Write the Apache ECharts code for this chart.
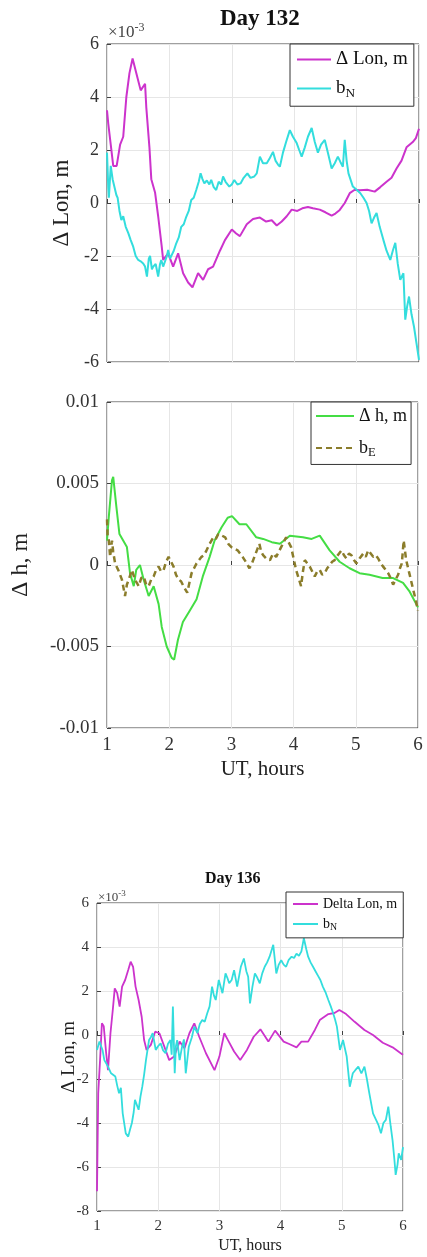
<!DOCTYPE html>
<html>
<head>
<meta charset="utf-8">
<script src="https://cdn.jsdelivr.net/npm/echarts@6/dist/echarts.min.js"></script>
<style>
  html, body { margin: 0; padding: 0; background: #fff; }
  #chart { width: 427px; height: 1257px; }
</style>
</head>
<body>
<div id="chart"></div>
<script>
// Day 132, delta longitude (x10^-3 m) and b_N, [UT hours, value]
const dLon132 = [[1.00,3.5],[1.02,3.0],[1.06,2.2],[1.10,1.4],[1.155,1.4],[1.21,2.2],[1.26,2.5],[1.31,4.0],[1.36,4.9],[1.41,5.45],[1.47,4.9],[1.54,4.25],[1.57,4.3],[1.61,4.5],[1.63,3.6],[1.68,2.1],[1.71,0.9],[1.77,0.4],[1.82,-0.5],[1.875,-1.6],[1.90,-2.15],[1.98,-1.9],[2.06,-2.4],[2.14,-1.9],[2.22,-2.65],[2.30,-3.0],[2.37,-3.18],[2.46,-2.65],[2.54,-2.9],[2.62,-2.5],[2.70,-2.4],[2.81,-1.8],[2.89,-1.4],[3.00,-1.0],[3.07,-1.15],[3.13,-1.25],[3.24,-0.8],[3.34,-0.6],[3.45,-0.55],[3.55,-0.7],[3.64,-0.65],[3.72,-0.85],[3.80,-0.7],[3.88,-0.5],[3.96,-0.25],[4.05,-0.3],[4.13,-0.2],[4.22,-0.15],[4.30,-0.2],[4.41,-0.25],[4.50,-0.35],[4.60,-0.48],[4.66,-0.4],[4.73,-0.26],[4.81,0.0],[4.89,0.37],[4.97,0.5],[5.05,0.48],[5.17,0.5],[5.29,0.43],[5.38,0.6],[5.48,0.8],[5.56,0.95],[5.64,1.3],[5.72,1.6],[5.80,2.1],[5.90,2.3],[5.95,2.45],[6.00,2.8]];
const bN132 = [[1.00,1.9],[1.02,0.6],[1.03,0.2],[1.05,1.0],[1.06,1.4],[1.09,0.9],[1.12,0.9],[1.15,0.3],[1.17,0.2],[1.20,-0.3],[1.23,-0.64],[1.26,-0.5],[1.30,-0.9],[1.34,-1.13],[1.38,-1.4],[1.42,-1.65],[1.46,-2.0],[1.50,-2.15],[1.54,-2.2],[1.58,-2.28],[1.61,-2.4],[1.64,-2.78],[1.67,-2.1],[1.69,-2.0],[1.72,-2.5],[1.74,-2.4],[1.78,-2.3],[1.82,-2.78],[1.85,-2.3],[1.87,-2.15],[1.90,-2.4],[1.93,-2.4],[1.96,-2.0],[1.98,-1.77],[2.01,-2.1],[2.03,-2.15],[2.07,-1.8],[2.11,-1.52],[2.15,-1.3],[2.19,-0.9],[2.23,-0.8],[2.27,-0.52],[2.31,-0.3],[2.35,0.11],[2.39,0.2],[2.43,0.49],[2.47,0.8],[2.50,1.12],[2.53,0.9],[2.56,0.74],[2.60,0.85],[2.64,0.7],[2.67,0.87],[2.71,0.6],[2.75,0.49],[2.79,0.8],[2.83,0.7],[2.86,1.0],[2.90,0.8],[2.93,0.75],[2.96,0.62],[3.00,0.7],[3.04,0.87],[3.09,0.7],[3.14,0.74],[3.19,0.95],[3.25,1.12],[3.30,0.95],[3.36,1.0],[3.40,1.12],[3.45,1.75],[3.50,1.5],[3.56,1.5],[3.61,1.7],[3.66,1.93],[3.70,1.6],[3.74,1.45],[3.77,1.37],[3.82,1.9],[3.87,2.3],[3.93,2.75],[3.98,2.5],[4.04,2.26],[4.08,2.0],[4.12,1.75],[4.17,2.1],[4.22,2.5],[4.28,2.83],[4.33,2.3],[4.38,1.9],[4.43,2.2],[4.49,2.38],[4.54,1.9],[4.60,1.3],[4.65,1.5],[4.70,1.75],[4.74,1.55],[4.78,1.37],[4.81,2.38],[4.84,1.6],[4.87,1.12],[4.94,0.62],[5.00,0.5],[5.06,0.37],[5.11,0.2],[5.16,0.0],[5.20,-0.3],[5.24,-0.77],[5.28,-0.55],[5.32,-0.38],[5.37,-0.9],[5.43,-1.4],[5.48,-1.8],[5.54,-2.15],[5.58,-1.8],[5.62,-1.5],[5.66,-2.3],[5.70,-2.9],[5.75,-2.65],[5.78,-4.4],[5.81,-3.9],[5.84,-3.53],[5.88,-4.2],[5.92,-4.67],[5.96,-5.3],[6.00,-5.92]];

// Day 132, delta height (m) and b_E
const dH132 = [[1.00,0.0015],[1.03,0.003],[1.08,0.0052],[1.10,0.0054],[1.15,0.0036],[1.20,0.0019],[1.26,0.0015],[1.32,0.0011],[1.37,-0.0005],[1.43,-0.0013],[1.47,-0.0003],[1.53,0.0],[1.59,-0.0009],[1.67,-0.0019],[1.75,-0.0013],[1.83,-0.0024],[1.88,-0.0038],[1.96,-0.005],[2.04,-0.0057],[2.08,-0.0058],[2.14,-0.0046],[2.22,-0.0035],[2.33,-0.0028],[2.44,-0.0021],[2.54,-0.0007],[2.65,0.0005],[2.73,0.0015],[2.84,0.0023],[2.94,0.0029],[3.01,0.003],[3.13,0.0025],[3.24,0.0025],[3.40,0.0017],[3.51,0.0016],[3.65,0.0014],[3.78,0.0013],[3.94,0.0018],[4.15,0.0017],[4.29,0.0016],[4.42,0.0018],[4.58,0.0009],[4.74,0.0002],[4.90,-0.0002],[5.06,-0.0005],[5.22,-0.0006],[5.43,-0.0008],[5.60,-0.0008],[5.76,-0.0011],[5.86,-0.0016],[6.00,-0.0026]];
const bE132 = [[1.00,0.0028],[1.01,0.0018],[1.03,0.0015],[1.05,0.0005],[1.08,0.0015],[1.10,0.0008],[1.13,0.0001],[1.18,-0.0003],[1.21,-0.0006],[1.24,-0.0009],[1.29,-0.0019],[1.32,-0.0012],[1.35,-0.0009],[1.40,-0.0003],[1.45,-0.0009],[1.51,-0.0013],[1.55,-0.0008],[1.59,-0.0007],[1.63,-0.0012],[1.67,-0.0013],[1.71,-0.0009],[1.75,-0.0007],[1.79,-0.0003],[1.83,-0.0001],[1.87,-0.0004],[1.91,-0.0003],[1.95,0.0002],[1.99,0.0005],[2.03,0.0002],[2.07,-0.0001],[2.11,-0.0006],[2.15,-0.0009],[2.19,-0.0010],[2.23,-0.0013],[2.29,-0.0017],[2.33,-0.0010],[2.36,-0.0005],[2.40,-0.0002],[2.44,0.0001],[2.48,0.0003],[2.52,0.0005],[2.56,0.0006],[2.60,0.0009],[2.65,0.0013],[2.71,0.0017],[2.75,0.0016],[2.79,0.0019],[2.85,0.0018],[2.90,0.0017],[2.95,0.0013],[3.00,0.0011],[3.05,0.0010],[3.10,0.0009],[3.14,0.0007],[3.18,0.0005],[3.23,0.0002],[3.29,-0.0002],[3.33,0.0001],[3.37,0.0005],[3.41,0.0009],[3.45,0.0013],[3.48,0.0008],[3.51,0.0006],[3.56,0.0004],[3.62,0.0003],[3.67,0.0007],[3.72,0.0005],[3.76,0.0008],[3.80,0.0011],[3.84,0.0014],[3.88,0.0017],[3.92,0.0014],[3.96,0.0011],[4.00,0.0004],[4.04,-0.0003],[4.08,-0.0008],[4.12,-0.0013],[4.15,-0.0004],[4.18,0.0003],[4.22,0.0001],[4.26,-0.0001],[4.30,-0.0004],[4.34,-0.0007],[4.38,-0.0004],[4.42,-0.0003],[4.46,-0.0006],[4.50,-0.0005],[4.54,-0.0002],[4.58,0.0],[4.62,0.0002],[4.66,0.0003],[4.71,0.0006],[4.77,0.0009],[4.81,0.0006],[4.85,0.0004],[4.89,0.0007],[4.93,0.0006],[4.97,0.0003],[5.01,0.0001],[5.06,0.0004],[5.12,0.0007],[5.16,0.0005],[5.20,0.0009],[5.24,0.0007],[5.28,0.0005],[5.32,0.0006],[5.36,0.0004],[5.40,0.0001],[5.44,-0.0001],[5.48,-0.0003],[5.52,-0.0005],[5.56,-0.0008],[5.60,-0.0012],[5.64,-0.0009],[5.68,-0.0006],[5.71,-0.0002],[5.74,0.0001],[5.77,0.0015],[5.79,0.0009],[5.81,0.0003],[5.86,-0.0005],[5.91,-0.0013],[5.96,-0.0021],[6.00,-0.0028]];

// Day 136, delta longitude (x10^-3 m) and b_N
const dLon136 = [[1.00,-7.1],[1.02,-2.65],[1.05,-1.14],[1.08,0.53],[1.11,0.4],[1.15,-0.83],[1.18,-1.6],[1.22,0.08],[1.26,1.2],[1.29,2.12],[1.33,1.9],[1.37,1.29],[1.41,2.2],[1.46,2.5],[1.51,2.95],[1.55,3.33],[1.59,3.1],[1.63,2.2],[1.68,1.59],[1.73,0.83],[1.77,-0.23],[1.81,-0.68],[1.88,-0.45],[1.95,0.15],[2.02,0.08],[2.10,-0.53],[2.18,-1.14],[2.26,-0.98],[2.35,-0.3],[2.43,-0.6],[2.51,0.08],[2.59,0.53],[2.67,-0.08],[2.78,-0.83],[2.92,-1.6],[3.00,-0.98],[3.08,0.08],[3.14,-0.23],[3.24,-0.75],[3.34,-1.14],[3.45,-0.68],[3.56,-0.08],[3.67,0.26],[3.80,-0.3],[3.91,0.2],[4.05,-0.3],[4.15,-0.42],[4.26,-0.56],[4.34,-0.3],[4.45,-0.3],[4.56,0.23],[4.64,0.68],[4.78,0.95],[4.88,1.0],[4.96,1.14],[5.07,0.95],[5.21,0.6],[5.37,0.23],[5.51,0.0],[5.67,-0.35],[5.83,-0.56],[5.98,-0.86],[6.00,-0.9]];
const bN136 = [[1.00,-0.68],[1.04,-0.3],[1.09,-0.68],[1.12,-1.14],[1.18,-1.44],[1.23,-1.74],[1.30,-1.89],[1.33,-2.3],[1.36,-2.65],[1.39,-2.4],[1.42,-3.56],[1.47,-4.47],[1.51,-4.62],[1.54,-4.3],[1.57,-4.0],[1.60,-3.5],[1.62,-2.95],[1.65,-3.0],[1.68,-3.4],[1.71,-2.8],[1.74,-2.35],[1.77,-1.8],[1.80,-1.14],[1.85,-0.23],[1.88,-0.1],[1.91,0.08],[1.96,-0.68],[2.00,-0.5],[2.04,-0.38],[2.08,-0.7],[2.12,-0.83],[2.16,-0.4],[2.20,-0.23],[2.22,-0.9],[2.24,1.29],[2.27,-1.74],[2.29,-0.5],[2.31,-0.23],[2.35,-1.14],[2.39,-0.53],[2.42,-0.2],[2.45,-1.74],[2.50,-0.53],[2.55,-0.1],[2.59,0.38],[2.64,0.08],[2.68,0.5],[2.72,0.68],[2.76,0.6],[2.80,0.98],[2.84,1.3],[2.88,2.2],[2.91,1.8],[2.94,1.59],[2.99,2.5],[3.02,2.2],[3.05,1.9],[3.10,2.8],[3.13,2.6],[3.16,2.35],[3.20,2.5],[3.24,2.95],[3.29,2.2],[3.35,3.1],[3.40,3.48],[3.44,2.9],[3.47,2.65],[3.50,1.44],[3.54,2.2],[3.58,2.8],[3.62,2.6],[3.66,2.35],[3.70,2.8],[3.74,3.1],[3.78,3.3],[3.82,3.56],[3.88,4.1],[3.93,2.8],[3.97,3.2],[4.01,3.4],[4.05,3.2],[4.09,3.1],[4.13,3.4],[4.18,3.56],[4.22,3.5],[4.26,3.7],[4.30,3.6],[4.34,3.8],[4.38,4.4],[4.42,3.9],[4.45,3.56],[4.49,3.3],[4.53,3.1],[4.57,2.9],[4.61,2.7],[4.65,2.5],[4.69,2.2],[4.74,1.9],[4.78,1.59],[4.82,1.3],[4.86,0.98],[4.89,0.7],[4.92,0.38],[4.97,-0.68],[5.02,-0.23],[5.05,-0.6],[5.08,-0.98],[5.13,-2.35],[5.18,-1.74],[5.22,-1.6],[5.27,-1.44],[5.32,-1.74],[5.37,-1.44],[5.41,-2.0],[5.45,-2.65],[5.51,-3.56],[5.56,-3.86],[5.60,-4.1],[5.64,-4.47],[5.68,-4.0],[5.72,-3.86],[5.76,-3.26],[5.80,-4.17],[5.83,-4.8],[5.86,-5.68],[5.88,-6.36],[5.91,-5.9],[5.93,-5.38],[5.97,-5.68],[6.00,-5.1]];

const FONT = 'Liberation Serif';
const legendNames = { 'bN': 'b{s|N}', 'bE': 'b{s|E}', 'bN 136': 'b{s|N}' };

function xAxisOf(grid, labels, fs, nameFs) {
  return {
    type: 'value', gridIndex: grid, min: 1, max: 6, interval: 1,
    name: labels ? 'UT, hours' : '', nameLocation: 'middle', nameGap: fs + 12,
    nameTextStyle: { fontFamily: FONT, fontSize: nameFs, color: '#222' },
    axisLine: { show: false },
    axisTick: { inside: true, length: 4, lineStyle: { color: '#404040' } },
    axisLabel: { show: labels, fontFamily: FONT, fontSize: fs, color: '#333', margin: 8 },
    splitLine: { lineStyle: { color: '#e6e6e6' } }
  };
}

function yAxisOf(grid, min, max, step, name, gap, fs, nameFs, fmt) {
  return {
    type: 'value', gridIndex: grid, min: min, max: max, interval: step,
    name: name, nameLocation: 'middle', nameRotate: 90, nameGap: gap,
    nameTextStyle: { fontFamily: FONT, fontSize: nameFs, color: '#222' },
    axisLine: { show: false },
    axisTick: { inside: true, length: 4, lineStyle: { color: '#404040' } },
    axisLabel: { fontFamily: FONT, fontSize: fs, color: '#333', margin: 8, formatter: fmt },
    splitLine: { lineStyle: { color: '#e6e6e6' } }
  };
}

function legendOf(names, left, top, fs, iw, gap, pad) {
  return {
    data: names, orient: 'vertical', left: left, top: top,
    backgroundColor: '#fff', borderColor: '#333', borderWidth: 1,
    padding: pad, itemWidth: iw, itemHeight: 10, itemGap: gap,
    itemStyle: { opacity: 0, borderWidth: 0 },
    textStyle: {
      fontFamily: FONT, fontSize: fs, color: '#111',
      rich: { s: { fontFamily: FONT, fontSize: fs * 0.7, color: '#111', padding: [fs * 0.55, 0, 0, 0] } }
    },
    formatter: name => legendNames[name] || name
  };
}

function lineOf(name, data, xi, color, width, dash) {
  return {
    name: name, type: 'line', xAxisIndex: xi, yAxisIndex: xi, data: data,
    symbol: 'none', showSymbol: false, animation: false,
    lineStyle: { color: color, width: width, type: dash || 'solid' },
    itemStyle: { color: color }
  };
}

const chart = echarts.init(document.getElementById('chart'));

// bottom panel: keep the axis name close to the tick labels, as in the figure
const yBottom = yAxisOf(2, -8, 6, 2, 'Δ Lon, m', 18, 15, 19, v => String(v));
yBottom.nameMoveOverlap = false;

const option = {
  backgroundColor: '#fff',
  title: [
    { text: 'Day 132', left: 220, top: 8, padding: 0,
      textStyle: { fontFamily: FONT, fontWeight: 'bold', fontSize: 23, color: '#111' } },
    { text: '×10{sup|-3}', left: 108, top: 22, padding: 0,
      textStyle: { fontFamily: FONT, fontSize: 17, fontWeight: 'normal', color: '#444',
        rich: { sup: { fontFamily: FONT, fontSize: 12, color: '#444', padding: [0, 0, 10, 0] } } } },
    { text: 'Day 136', left: 205, top: 871, padding: 0,
      textStyle: { fontFamily: FONT, fontWeight: 'bold', fontSize: 16, color: '#111' } },
    { text: '×10{sup|-3}', left: 98, top: 889, padding: 0,
      textStyle: { fontFamily: FONT, fontSize: 13, fontWeight: 'normal', color: '#444',
        rich: { sup: { fontFamily: FONT, fontSize: 9, color: '#444', padding: [0, 0, 8, 0] } } } }
  ],
  grid: [
    { left: 107, top: 44, width: 312, height: 318, show: true, borderColor: '#404040', borderWidth: 1 },
    { left: 107, top: 402, width: 311, height: 326, show: true, borderColor: '#404040', borderWidth: 1 },
    { left: 97, top: 903, width: 306, height: 308, show: true, borderColor: '#404040', borderWidth: 1 }
  ],
  xAxis: [
    xAxisOf(0, false, 18, 21),
    xAxisOf(1, true, 19, 21),
    xAxisOf(2, true, 15, 16)
  ],
  yAxis: [
    yAxisOf(0, -6, 6, 2, 'Δ Lon, m', 34, 18, 23, v => String(v)),
    yAxisOf(1, -0.01, 0.01, 0.005, 'Δ h, m', 74, 19, 24,
      v => Math.abs(v) < 1e-12 ? '0' : String(Math.round(v * 1000) / 1000)),
    yBottom
  ],
  legend: [
    legendOf(['Δ Lon, m', 'bN'], 290, 44, 19, 34, 10, [6, 6, 6, 6]),
    legendOf(['Δ h, m', 'bE'], 311, 402, 18, 38, 14, [5, 4, 5, 4]),
    legendOf(['Delta Lon, m', 'bN 136'], 286, 892, 14, 25, 6, [5, 6, 5, 6])
  ],
  series: [
    lineOf('Δ Lon, m', dLon132, 0, '#cc33cc', 2),
    lineOf('bN', bN132, 0, '#33dddd', 2),
    lineOf('Δ h, m', dH132, 1, '#44dd44', 2),
    lineOf('bE', bE132, 1, '#8b7d2b', 2.5, [6, 4]),
    lineOf('Delta Lon, m', dLon136, 2, '#cc33cc', 1.8),
    lineOf('bN 136', bN136, 2, '#33dddd', 1.8)
  ]
};

chart.setOption(option);
</script>
</body>
</html>
